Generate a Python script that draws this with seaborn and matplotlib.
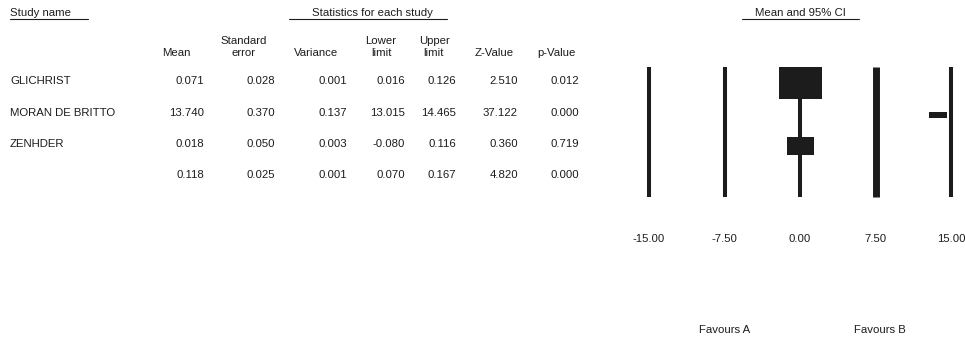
import seaborn as sns
import matplotlib.pyplot as plt

# Meta-analysis table values
studies = ["GLICHRIST", "MORAN DE BRITTO", "ZENHDER", ""]
mean = [0.071, 13.740, 0.018, 0.118]
std_err = [0.028, 0.370, 0.050, 0.025]
variance = [0.001, 0.137, 0.003, 0.001]
lower = [0.016, 13.015, -0.080, 0.070]
upper = [0.126, 14.465, 0.116, 0.167]
z_value = [2.510, 37.122, 0.360, 4.820]
p_value = [0.012, 0.000, 0.719, 0.000]

ticks = [-15, -7.5, 0, 7.5, 15]
tick_labels = ["-15.00", "-7.50", "0.00", "7.50", "15.00"]

# marker box sizes (x units, row units) for the three studies
box_w = [4.3, 1.8, 2.7]
box_h = [1.0, 0.19, 0.57]

sns.set_theme(style="white")
plt.rcParams["font.family"] = ["Liberation Sans", "DejaVu Sans"]
ink = "#1c1c1c"
fs = 8.2

fig = plt.figure(figsize=(9.65, 3.39), dpi=100)

# overlay in pixel coordinates for the table text
tab = fig.add_axes([0, 0, 1, 1])
tab.set_xlim(0, 965)
tab.set_ylim(339, 0)
tab.axis("off")

def txt(x, y, s, ha="left"):
    tab.text(x, y, s, ha=ha, va="center", fontsize=fs, color=ink)

txt(10, 13, "Study name")
tab.plot([10, 88], [19, 19], color=ink, lw=0.8)
txt(372, 13, "Statistics for each study", ha="center")
tab.plot([289, 447], [19, 19], color=ink, lw=0.8)
txt(800, 13, "Mean and 95% CI", ha="center")
tab.plot([742, 859], [19, 19], color=ink, lw=0.8)

txt(176, 53, "Mean", ha="center")
txt(244, 41, "Standard", ha="center")
txt(244, 53, "error", ha="center")
txt(316, 53, "Variance", ha="center")
txt(381, 41, "Lower", ha="center")
txt(381, 53, "limit", ha="center")
txt(434, 41, "Upper", ha="center")
txt(433, 53, "limit", ha="center")
txt(494, 53, "Z-Value", ha="center")
txt(556, 53, "p-Value", ha="center")

row_y = [81, 113, 144, 175]
cols = [(204, mean), (275, std_err), (347, variance), (405, lower),
        (456, upper), (518, z_value), (579, p_value)]
for i, y in enumerate(row_y):
    txt(10, y, studies[i])
    for x, vals in cols:
        txt(x, y, f"{vals[i]:.3f}", ha="right")

txt(725, 330, "Favours A", ha="center")
txt(880, 330, "Favours B", ha="center")

# forest panel
ax = fig.add_axes([649 / 965, 1 - 197 / 339, 302 / 965, 130 / 339])
ax.set_xlim(-15, 15)
ax.set_ylim(3.6, -0.5)
ax.vlines(ticks, 3.6, -0.5, colors=ink, linewidths=[2.9, 2.9, 2.9, 5.0, 2.9],
          clip_on=False)
for i in range(3):
    ax.barh(i, box_w[i], left=mean[i] - box_w[i] / 2, height=box_h[i],
            color=ink, edgecolor=ink, linewidth=0, clip_on=False, zorder=3)
ax.set_xticks(ticks)
ax.set_xticklabels(tick_labels, fontsize=fs, color=ink)
ax.tick_params(axis="x", length=0, pad=27)
ax.set_yticks([])
sns.despine(ax=ax, left=True, bottom=True)
ax.set_facecolor("none")

fig.savefig("out.png", dpi=100)
